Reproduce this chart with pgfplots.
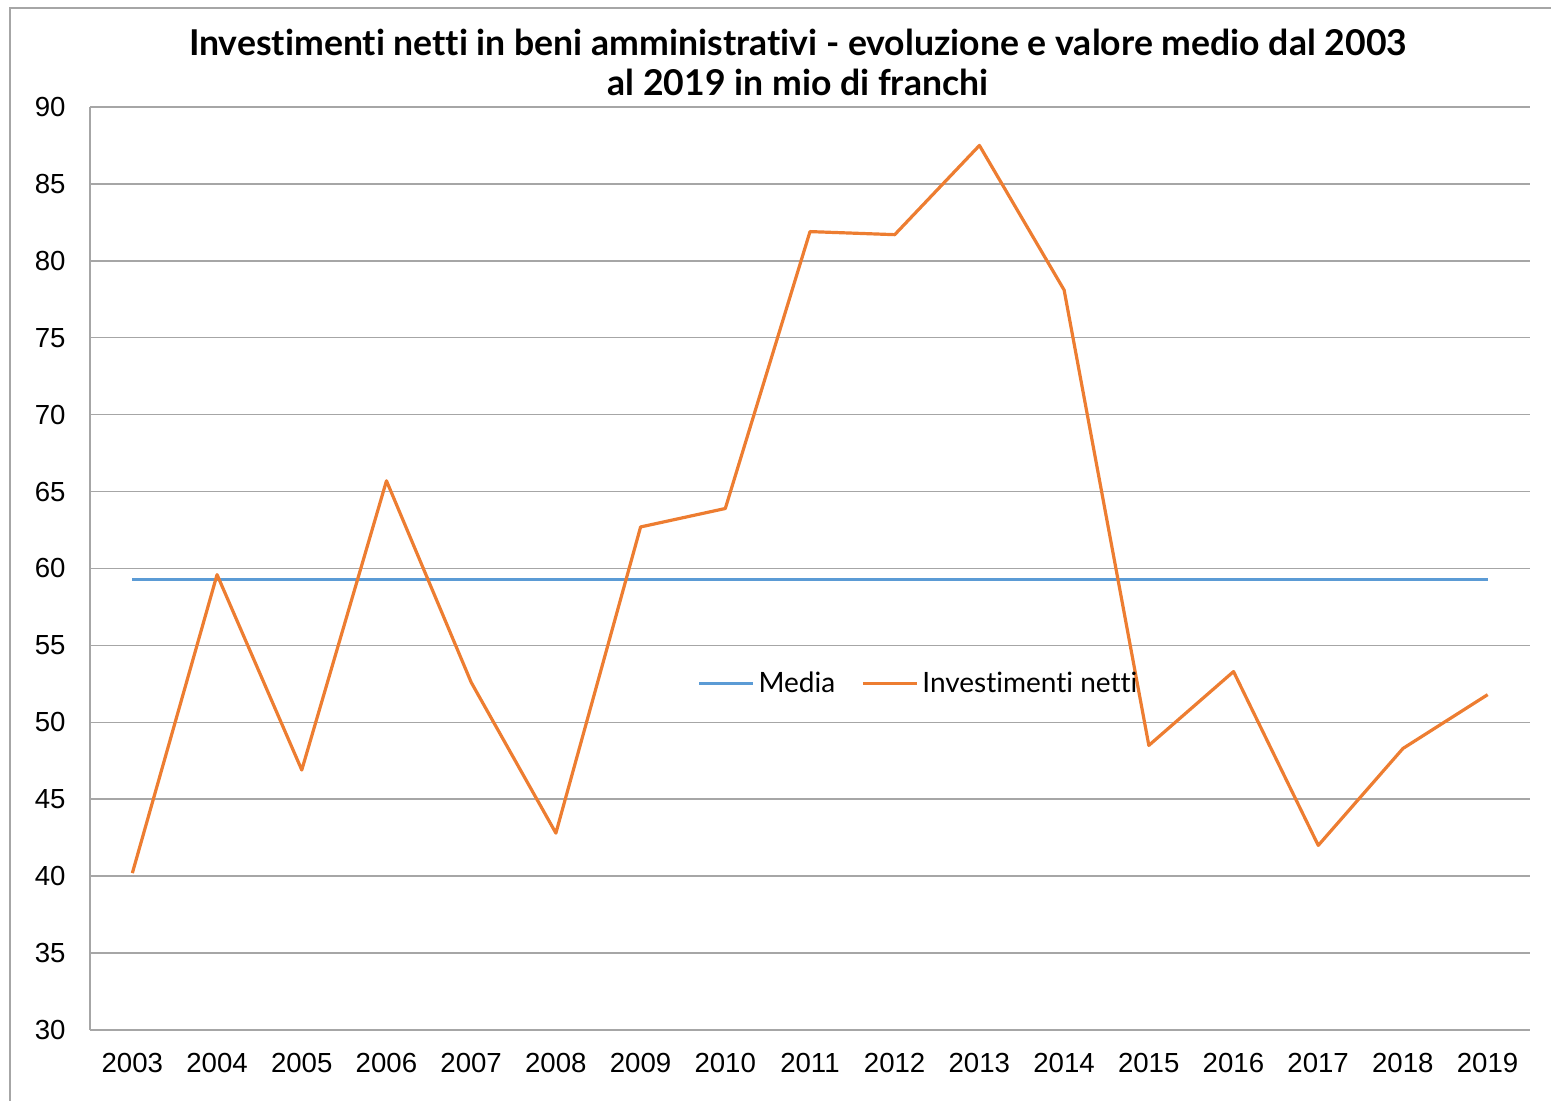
\documentclass[border=0pt]{standalone}
\usepackage{pgfplots}
\pgfplotsset{compat=1.18}
\usepackage{fontspec}
\setmainfont{Liberation Sans}
\newfontfamily\av{Lato}[Ligatures={NoCommon}]
\definecolor{cblue}{HTML}{5B9BD5}
\definecolor{corange}{HTML}{ED7D31}
\definecolor{cgrid}{HTML}{A6A6A6}
\begin{document}
\begin{tikzpicture}
\useasboundingbox (0,0) rectangle (775.5pt,550.5pt);
\draw[cgrid, line width=0.75pt] (5pt,-10pt) -- (5pt,546.5pt) -- (790pt,546.5pt);
\node[align=center, font=\av\bfseries\fontsize{17.8}{20}\selectfont, text=black] at (399pt,519.5pt)
 {Investimenti netti in beni amministrativi - evoluzione e valore medio dal 2003\\al 2019 in mio di franchi};
\begin{axis}[at={(45pt,35.5pt)}, anchor=south west, scale only axis,
 width=720pt, height=461.5pt,
 xmin=2002.5, xmax=2019.5, ymin=30, ymax=90,
 ytick={30,35,...,90}, xtick={2003,2004,...,2019},
 axis x line*=bottom, axis y line*=left,
 axis line style={cgrid, line width=0.75pt, -},
 ymajorgrids, grid style={cgrid, line width=0.75pt},
 major tick length=0pt,
 /pgf/number format/assume math mode=true,
 /pgf/number format/1000 sep={},
 tick label style={font=\fontsize{13.8}{16}\selectfont, text=black, inner sep=0pt},
 yticklabel style={anchor=east, xshift=-12pt},
 xticklabel style={anchor=north, yshift=-11.5pt},
 legend style={at={(0.576,0.375)}, anchor=center, draw=none, fill=none,
   font=\av\fontsize{14}{16}\selectfont, text=black,
   /tikz/every even column/.append style={column sep=11pt}},
 legend columns=2,
 legend image code/.code={\draw[#1] (0pt,0pt) -- (27pt,0pt);},
]
\addplot[cblue, line width=1.5pt] coordinates {(2003,59.3) (2019,59.3)};
\addlegendentry{Media}
\addplot[corange, line width=1.6pt, line join=round] coordinates {
(2003,40.2) (2004,59.6) (2005,46.9) (2006,65.7) (2007,52.6) (2008,42.8)
(2009,62.7) (2010,63.9) (2011,81.9) (2012,81.7) (2013,87.5) (2014,78.1)
(2015,48.5) (2016,53.3) (2017,42.0) (2018,48.3) (2019,51.8)};
\addlegendentry{Investimenti netti}
\end{axis}
\end{tikzpicture}
\end{document}
